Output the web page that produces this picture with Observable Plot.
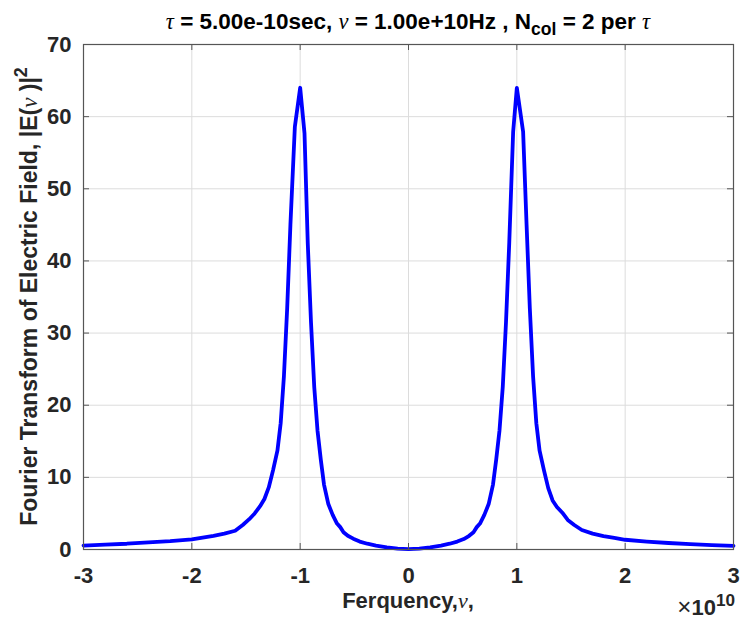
<!DOCTYPE html>
<html><head><meta charset="utf-8">
<script src="https://cdn.jsdelivr.net/npm/d3@7"></script>
<script src="https://cdn.jsdelivr.net/npm/@observablehq/plot@0.6"></script>
<style>body{margin:0;background:#fff;} #chart svg{display:block}</style>
</head><body><div id="chart"></div>
<script>
// frequency in units of 1e10 Hz (axis shows ×10^10)
const freqNeg = [-3.0,-2.8,-2.6,-2.4,-2.2,-2.0,-1.9,-1.8,-1.7,-1.6,-1.53,-1.47,-1.42,-1.37,-1.33,-1.29,-1.25,-1.21,-1.18,-1.15,-1.12,-1.09,-1.049,-1.0,-0.96,-0.93,-0.9,-0.87,-0.84,-0.81,-0.78,-0.74,-0.7,-0.66,-0.63,-0.6,-0.56,-0.51,-0.45,-0.38,-0.3,-0.2,-0.1];
const powerNeg = [0.55,0.68,0.8,1.0,1.15,1.4,1.65,1.9,2.2,2.6,3.4,4.2,5.0,6.0,7.0,8.6,11,13.7,17.5,24,33.4,45,58.6,64,57.7,42.5,31.5,22.5,16.5,12.5,9.0,6.3,4.8,3.6,3.1,2.4,1.9,1.5,1.1,0.8,0.55,0.3,0.12];
const freqPos = [0,0.1,0.2,0.3,0.38,0.45,0.51,0.56,0.6,0.63,0.66,0.7,0.74,0.78,0.81,0.84,0.87,0.9,0.93,0.966,1.0,1.058,1.09,1.12,1.15,1.18,1.21,1.25,1.29,1.33,1.37,1.42,1.47,1.53,1.6,1.7,1.8,1.9,2.0,2.2,2.4,2.6,2.8,3.0];
const powerPos = [0.05,0.12,0.3,0.55,0.8,1.1,1.45,1.9,2.4,3.1,3.6,4.8,6.3,9.0,12.5,16.5,22.5,31.5,42.5,57.9,64,57.9,45,33.4,24,17.5,13.7,11,8.5,6.8,5.9,5.1,4.1,3.4,2.7,2.2,1.85,1.6,1.35,1.1,0.9,0.75,0.62,0.5];

const xTicks = [-3,-2,-1,0,1,2,3];
const yTicks = [0,10,20,30,40,50,60,70];

const titleParts = [
  {text:"τ", greek:true}, {text:" = 5.00e-10sec, "}, {text:"ν", greek:true},
  {text:" = 1.00e+10Hz , N"}, {text:"col", sub:true}, {text:" = 2 per "}, {text:"τ", greek:true}
];
const yLabelParts = [{text:"Fourier Transform of Electric Field, |E("}, {text:"ν", greek:true}, {text:" )|"}, {text:"2", sup:true}];
const xLabelParts = [{text:"Ferquency,"}, {text:"ν", greek:true}, {text:","}];
const exponentParts = [{text:"×", thin:true, big:true}, {text:"10"}, {text:"10", sup:true}];

const data = freqNeg.map((f,i)=>({f, p: powerNeg[i]})).concat(freqPos.map((f,i)=>({f, p: powerPos[i]})));

const W = 740, H = 624, mL = 83, mR = 7, mT = 44, mB = 75;
const pw = W - mL - mR, ph = H - mT - mB;
const tick = 6;
const frameColor = "#555555";
const font = "'Liberation Sans', Arial, Helvetica, sans-serif";

const chart = Plot.plot({
  width: W, height: H,
  marginLeft: mL, marginRight: mR, marginTop: mT, marginBottom: mB,
  style: {fontFamily: font, fontWeight: "bold", color: "#262626", background: "#fff"},
  x: {domain: [-3, 3]},
  y: {domain: [0, 70]},
  marks: [
    Plot.gridX(xTicks, {stroke: "#dcdcdc", strokeOpacity: 1, strokeWidth: 1}),
    Plot.gridY(yTicks, {stroke: "#dcdcdc", strokeOpacity: 1, strokeWidth: 1}),
    Plot.line(data, {x: "f", y: "p", stroke: "#0000ff", strokeWidth: 3.8, strokeLinejoin: "round", strokeLinecap: "round"}),
    // inward ticks (MATLAB style)
    Plot.ruleX(xTicks, {x: d => d, stroke: frameColor, insetTop: ph - tick}),
    Plot.ruleX(xTicks, {x: d => d, stroke: frameColor, insetBottom: ph - tick}),
    Plot.ruleY(yTicks, {y: d => d, stroke: frameColor, insetRight: pw - tick}),
    Plot.ruleY(yTicks, {y: d => d, stroke: frameColor, insetLeft: pw - tick}),
    Plot.frame({stroke: frameColor, strokeWidth: 1.2}),
    Plot.axisX(xTicks, {tickSize: 0, tickPadding: 18, fontSize: 22, fontWeight: "bold", tickFormat: d => String(d), fill: "#262626", label: null}),
    Plot.axisY(yTicks, {tickSize: 0, tickPadding: 12, fontSize: 22, fontWeight: "bold", tickFormat: d => String(d), fill: "#262626", label: null})
  ]
});
document.getElementById("chart").appendChild(chart);

const svg = d3.select(chart);
function rich(sel, parts, size) {
  let shift = 0;
  parts.forEach(p => {
    const ts = sel.append("tspan").text(p.text);
    let target = 0;
    if (p.sub) target = Math.round(size * 0.28);
    if (p.sup) target = -Math.round(size * 0.42);
    if (target !== shift) { ts.attr("dy", target - shift); shift = target; }
    if (p.sub || p.sup) ts.style("font-size", (size * 0.78) + "px");
    if (p.big) ts.style("font-size", (size * 1.1) + "px");
    if (p.greek) ts.style("font-family", "'Liberation Serif', 'DejaVu Serif', serif").style("font-style", "italic").style("font-weight", "normal");
    if (p.thin) ts.style("font-weight", "normal");
  });
}
const title = svg.append("text").attr("x", mL + pw / 2).attr("y", 29).attr("text-anchor", "middle")
  .style("font", `bold 22.5px ${font}`).attr("fill", "#000");
rich(title, titleParts, 22.5);

const yl = svg.append("text").attr("transform", `translate(37,${mT + ph / 2}) rotate(-90)`).attr("text-anchor", "middle")
  .style("font", `bold 23px ${font}`).attr("fill", "#262626");
rich(yl, yLabelParts, 23);

const xl = svg.append("text").attr("x", mL + pw / 2).attr("y", 608).attr("text-anchor", "middle")
  .style("font", `bold 22px ${font}`).attr("fill", "#262626");
rich(xl, xLabelParts, 22);

const ex = svg.append("text").attr("x", W - 5).attr("y", 615).attr("text-anchor", "end")
  .style("font", `bold 22px ${font}`).attr("fill", "#262626");
rich(ex, exponentParts, 22);
</script>
</body></html>
